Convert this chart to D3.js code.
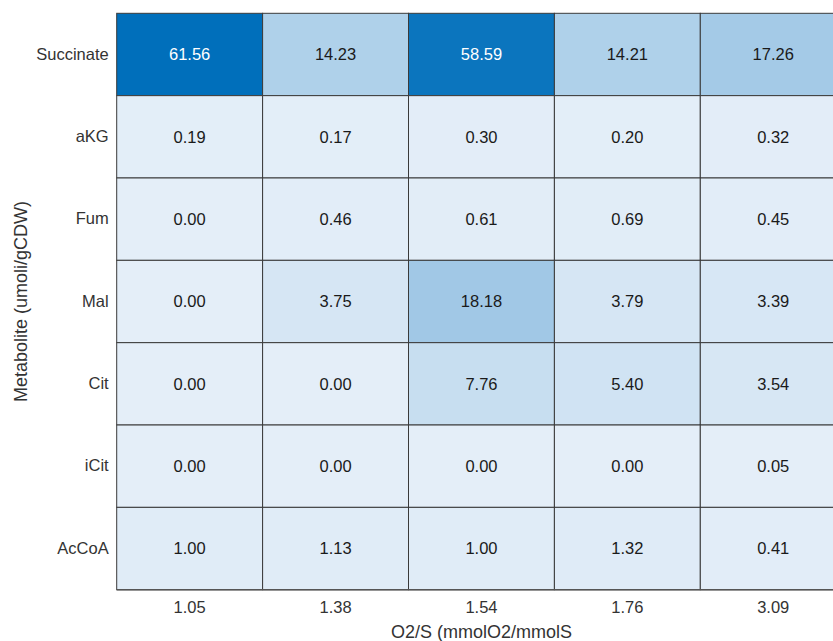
<!DOCTYPE html>
<html>
<head>
<meta charset="utf-8">
<script src="https://cdn.jsdelivr.net/npm/d3@7"></script>
<style>
  body { margin: 0; background: #fff; overflow: hidden; }
  text { font-family: "Liberation Sans", Arial, sans-serif; }
</style>
</head>
<body>
<div id="chart"></div>
<script>
var ratios = ["1.05", "1.38", "1.54", "1.76", "3.09"];
var metabolites = ["Succinate", "aKG", "Fum", "Mal", "Cit", "iCit", "AcCoA"];

// one array per metabolite, in the order of ratios
var succinate = [61.56, 14.23, 58.59, 14.21, 17.26];
var akg = [0.19, 0.17, 0.30, 0.20, 0.32];
var fum = [0.00, 0.46, 0.61, 0.69, 0.45];
var mal = [0.00, 3.75, 18.18, 3.79, 3.39];
var cit = [0.00, 0.00, 7.76, 5.40, 3.54];
var icit = [0.00, 0.00, 0.00, 0.00, 0.05];
var accoa = [1.00, 1.13, 1.00, 1.32, 0.41];

var rows = [succinate, akg, fum, mal, cit, icit, accoa];

var cells = [];
rows.forEach(function(r, i) {
  r.forEach(function(v, j) {
    cells.push({metabolite: metabolites[i], ratio: ratios[j], value: v});
  });
});

var width = 833,
    height = 641;
var margin = {top: 13.3, left: 116.7};
var plotW = 729.5,
    plotH = 576.4;

var svg = d3.select("#chart")
    .append("svg")
    .attr("width", width)
    .attr("height", height);

var g = svg.append("g")
    .attr("transform", "translate(" + margin.left + "," + margin.top + ")");

var x = d3.scaleBand().domain(ratios).range([0, plotW]);
var y = d3.scaleBand().domain(metabolites).range([0, plotH]);

var color = d3.scaleLinear()
    .domain([0, d3.max(cells, d => d.value)])
    .range(["#e4eef8", "#006fbb"]);

var cell = g.selectAll(".cell")
    .data(cells)
    .enter().append("g")
    .attr("class", "cell")
    .attr("transform", d => "translate(" + x(d.ratio) + "," + y(d.metabolite) + ")");

cell.append("rect")
    .attr("width", x.bandwidth())
    .attr("height", y.bandwidth())
    .style("fill", d => color(d.value))
    .style("stroke", "#3a3a3a")
    .style("stroke-width", 1);

cell.append("text")
    .attr("x", x.bandwidth() / 2)
    .attr("y", y.bandwidth() / 2)
    .attr("dy", "0.35em")
    .attr("text-anchor", "middle")
    .style("font-size", "16.5px")
    .style("fill", d => d.value > 40 ? "#ffffff" : "#1a1a1a")
    .text(d => d.value.toFixed(2));

// axes, no lines, only labels
var xAxis = g.append("g")
    .attr("transform", "translate(0," + plotH + ")")
    .call(d3.axisBottom(x).tickSize(0).tickPadding(12));
var yAxis = g.append("g")
    .call(d3.axisLeft(y).tickSize(0).tickPadding(8));

[xAxis, yAxis].forEach(function(a) {
  a.select(".domain").remove();
  a.selectAll("text")
    .style("font-size", "16.5px")
    .style("fill", "#333")
    .style("font-family", "'Liberation Sans', Arial, sans-serif");
});

// bottom edge a little darker, like the reference
g.append("line")
    .attr("x1", 0).attr("x2", plotW)
    .attr("y1", plotH).attr("y2", plotH)
    .style("stroke", "#555")
    .style("stroke-width", 1.5);

svg.append("text")
    .attr("x", margin.left + plotW / 2)
    .attr("y", 638)
    .attr("text-anchor", "middle")
    .style("font-size", "18px")
    .style("fill", "#333")
    .text("O2/S (mmolO2/mmolS");

svg.append("text")
    .attr("transform", "translate(27," + (margin.top + plotH / 2) + ") rotate(-90)")
    .attr("text-anchor", "middle")
    .style("font-size", "18px")
    .style("fill", "#333")
    .text("Metabolite (umoli/gCDW)");
</script>
</body>
</html>
